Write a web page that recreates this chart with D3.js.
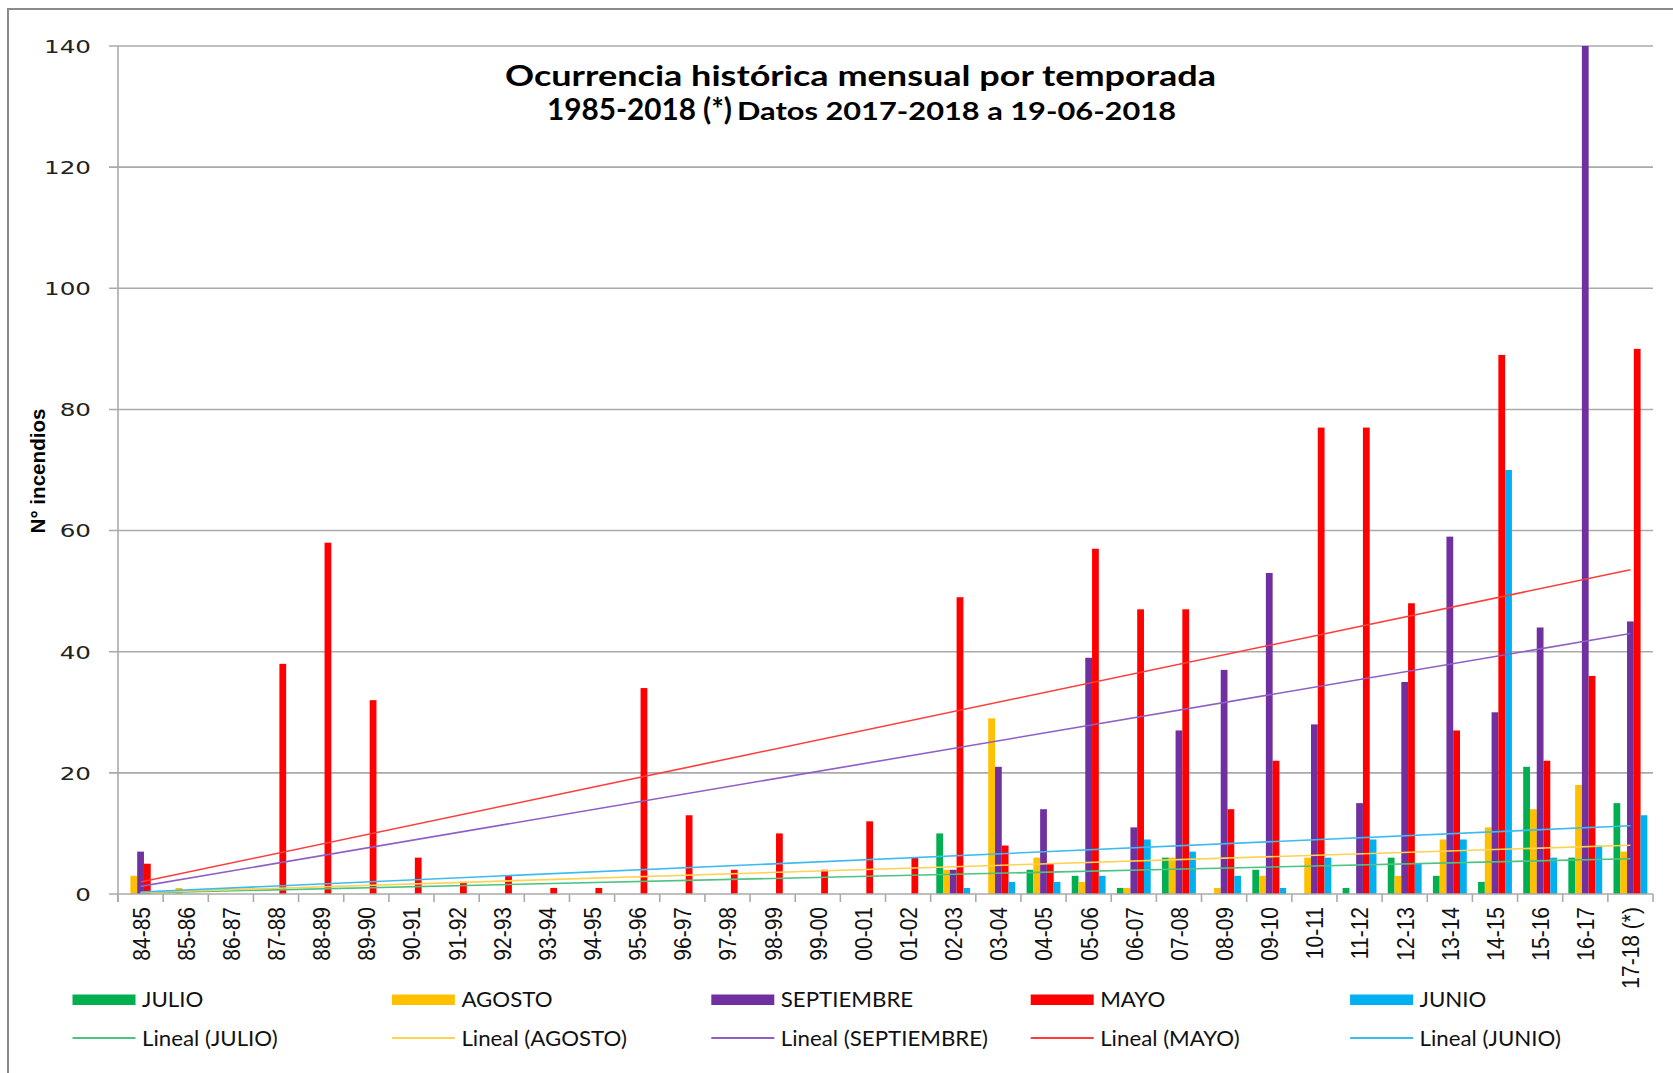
<!DOCTYPE html>
<html>
<head>
<meta charset="utf-8">
<script src="https://cdn.jsdelivr.net/npm/d3@7"></script>
<style>
  html, body { margin: 0; padding: 0; background: #ffffff; overflow: hidden; }
  svg { display: block; }
</style>
</head>
<body>
<script>
// ---------------- DATA ----------------
const categories = ["84-85","85-86","86-87","87-88","88-89","89-90","90-91","91-92","92-93","93-94",
  "94-95","95-96","96-97","97-98","98-99","99-00","00-01","01-02","02-03","03-04","04-05","05-06",
  "06-07","07-08","08-09","09-10","10-11","11-12","12-13","13-14","14-15","15-16","16-17","17-18 (*)"];

const seriesNames = ["JULIO", "AGOSTO", "SEPTIEMBRE", "MAYO", "JUNIO"];

const julio      = [0,0,0,0,0,0,0,0,0,0,0,0,0,0,0,0,0,0, 10,0,4,3,1,6,0,4,0,1,6,3,2,21,6,15];
const agosto     = [3,1,0,0,0,0,0,0,0,0,0,0,0,0,0,0,0,0, 4,29,6,2,1,6,1,3,6,0,3,9,11,14,18,7];
const septiembre = [7,0,0,0,0,0,0,0,0,0,0,0,0,0,0,0,0,0, 4,21,14,39,11,27,37,53,28,15,35,59,30,44,140,45];
const mayo       = [5,0,0,38,58,32,6,2,3,1,1,34,13,4,10,4,12,6, 49,8,5,57,47,47,14,22,77,77,48,27,89,22,36,90];
const junio      = [0,0,0,0,0,0,0,0,0,0,0,0,0,0,0,0,0,0, 1,2,2,3,9,7,3,1,6,9,5,9,70,6,8,13];

const seriesValues = [julio, agosto, septiembre, mayo, junio];
// linear trendline type per series ("origin" = intercept fixed at 0, "ols" = ordinary least squares)
const trendTypes = ["origin", "origin", "origin", "ols", "origin"];

const yTicks = [0, 20, 40, 60, 80, 100, 120, 140];
const titleLine1 = "Ocurrencia histórica mensual por temporada";
const titleLine2a = "1985-2018 (*)";
const titleLine2b = "Datos 2017-2018 a 19-06-2018";
const yTitle = "N° incendios";

// ---------------- STYLE / LAYOUT ----------------
const W = 1673, H = 1073;
const barColors   = ["#00B050", "#FFC000", "#7030A0", "#FF0000", "#00B0F0"];
const trendColors = ["#4cc382", "#ffd24f", "#8f5fc6", "#ff3d3d", "#3dbbef"];
const X0 = 118, X1 = 1653, YBOT = 894, YTOP = 46;
const gridColor = "#aaaaaa";

const svg = d3.select("body").append("svg").attr("width", W).attr("height", H);
svg.append("rect").attr("width", W).attr("height", H).attr("fill", "#fff");

// outer chart border (extends past right/bottom edges)
svg.append("rect").attr("x", 8).attr("y", 9).attr("width", W + 20).attr("height", H + 20)
  .attr("fill", "none").attr("stroke", "#8a8a8a").attr("stroke-width", 2);

const x = d3.scaleBand().domain(categories).range([X0, X1]).paddingInner(0).paddingOuter(0);
const bw = x.bandwidth();
const xs = d3.scaleBand().domain(seriesNames).range([bw * 0.125, bw * 0.875]).padding(0);
const y = d3.scaleLinear().domain([0, 140]).range([YBOT, YTOP]);

function stretch(sel, k) {
  sel.each(function () {
    const w = this.getComputedTextLength();
    d3.select(this).attr("textLength", w * k).attr("lengthAdjust", "spacingAndGlyphs");
  });
}

// gridlines
const grid = svg.append("g");
grid.selectAll("line").data(yTicks.filter(d => d > 0)).join("line")
  .attr("x1", X0 - 9).attr("x2", X1)
  .attr("y1", d => y(d)).attr("y2", d => y(d))
  .attr("stroke", gridColor).attr("stroke-width", 1.6);

// y tick labels
const yl = svg.append("g").selectAll("text").data(yTicks).join("text")
  .attr("x", 91).attr("y", d => y(d)).attr("dy", "0.37em")
  .attr("text-anchor", "end")
  .attr("font-family", "'DejaVu Sans', Verdana, sans-serif").attr("font-size", 18.5)
  .attr("fill", "#222").text(d => d);
stretch(yl, 1.33);

// bars
const barsG = svg.append("g");
seriesNames.forEach((s, si) => {
  barsG.append("g").selectAll("rect").data(seriesValues[si]).join("rect")
    .attr("x", (d, i) => x(categories[i]) + xs(s))
    .attr("width", xs.bandwidth())
    .attr("y", d => y(Math.min(d, 140)))
    .attr("height", d => YBOT - y(Math.min(d, 140)))
    .attr("fill", barColors[si]);
});

// trendlines (linear fit over category index 1..n)
function fit(vals, type) {
  const xsIdx = vals.map((v, i) => i + 1);
  if (type === "origin") {
    const sxy = d3.sum(vals, (v, i) => v * xsIdx[i]);
    const sxx = d3.sum(xsIdx, t => t * t);
    return { a: 0, b: sxy / sxx };
  }
  const mx = d3.mean(xsIdx), my = d3.mean(vals);
  const sxy = d3.sum(vals, (v, i) => (xsIdx[i] - mx) * (v - my));
  const sxx = d3.sum(xsIdx, t => (t - mx) * (t - mx));
  const b = sxy / sxx;
  return { a: my - b * mx, b };
}
const trendG = svg.append("g");
seriesNames.forEach((s, si) => {
  const f = fit(seriesValues[si], trendTypes[si]);
  const pts = [0, categories.length - 1].map(i => [x(categories[i]) + bw / 2, y(f.a + f.b * (i + 1))]);
  trendG.append("path").attr("d", d3.line()(pts))
    .attr("fill", "none").attr("stroke", trendColors[si]).attr("stroke-width", 1.6);
});

// axes lines
svg.append("line").attr("x1", X0).attr("x2", X0).attr("y1", YTOP).attr("y2", YBOT + 8)
  .attr("stroke", gridColor).attr("stroke-width", 1.6);
svg.append("line").attr("x1", X0 - 9).attr("x2", X1).attr("y1", YBOT).attr("y2", YBOT)
  .attr("stroke", gridColor).attr("stroke-width", 1.6);
svg.append("g").selectAll("line").data(d3.range(categories.length + 1)).join("line")
  .attr("x1", i => X0 + i * bw).attr("x2", i => X0 + i * bw)
  .attr("y1", YBOT).attr("y2", YBOT + 8)
  .attr("stroke", gridColor).attr("stroke-width", 1.6);

// category labels
svg.append("g").selectAll("text").data(categories).join("text")
  .attr("transform", d => `translate(${x(d) + bw / 2},907) rotate(-90) scale(1,1.18)`)
  .attr("text-anchor", "end").attr("dy", "0.36em")
  .attr("font-family", "'Liberation Sans', Arial, sans-serif").attr("font-size", 21)
  .attr("fill", "#111").text(d => d);

// y axis title
svg.append("text")
  .attr("transform", "translate(37,471) rotate(-90)")
  .attr("text-anchor", "middle").attr("dy", "0.36em")
  .attr("font-family", "'Liberation Sans Narrow', 'Liberation Sans', Arial, sans-serif")
  .attr("font-weight", "bold").attr("font-size", 21)
  .attr("textLength", 125).attr("lengthAdjust", "spacingAndGlyphs")
  .attr("fill", "#000").text(yTitle);

// title
const tf = "Lato, 'Open Sans', sans-serif";
svg.append("text").attr("x", 505).attr("y", 86)
  .attr("font-family", tf).attr("font-weight", "bold").attr("font-size", 29)
  .attr("textLength", 711).attr("lengthAdjust", "spacingAndGlyphs")
  .attr("fill", "#000").text(titleLine1);
svg.append("text").attr("x", 547).attr("y", 120)
  .attr("font-family", tf).attr("font-weight", "bold").attr("font-size", 30)
  .attr("textLength", 185).attr("lengthAdjust", "spacingAndGlyphs")
  .attr("fill", "#000").text(titleLine2a);
svg.append("text").attr("x", 737).attr("y", 120)
  .attr("font-family", tf).attr("font-weight", "bold").attr("font-size", 24)
  .attr("textLength", 439).attr("lengthAdjust", "spacingAndGlyphs")
  .attr("fill", "#000").text(titleLine2b);

// legend
const legX0 = 72.5, legDX = 319.4, swW = 63;
const leg = svg.append("g");
seriesNames.forEach((s, si) => {
  const lx = legX0 + si * legDX;
  leg.append("rect").attr("x", lx).attr("y", 994.5).attr("width", swW).attr("height", 10.5)
    .attr("fill", barColors[si]);
  leg.append("line").attr("x1", lx).attr("x2", lx + swW).attr("y1", 1038).attr("y2", 1038)
    .attr("stroke", trendColors[si]).attr("stroke-width", 2);
  const t1 = leg.append("text").attr("x", lx + swW + 6.5).attr("y", 1007)
    .attr("font-family", tf).attr("font-size", 21).attr("fill", "#111").text(s);
  const t2 = leg.append("text").attr("x", lx + swW + 6.5).attr("y", 1046)
    .attr("font-family", tf).attr("font-size", 21).attr("fill", "#111").text(`Lineal (${s})`);
  stretch(t1, 1.06);
  stretch(t2, 1.06);
});
</script>
</body>
</html>
